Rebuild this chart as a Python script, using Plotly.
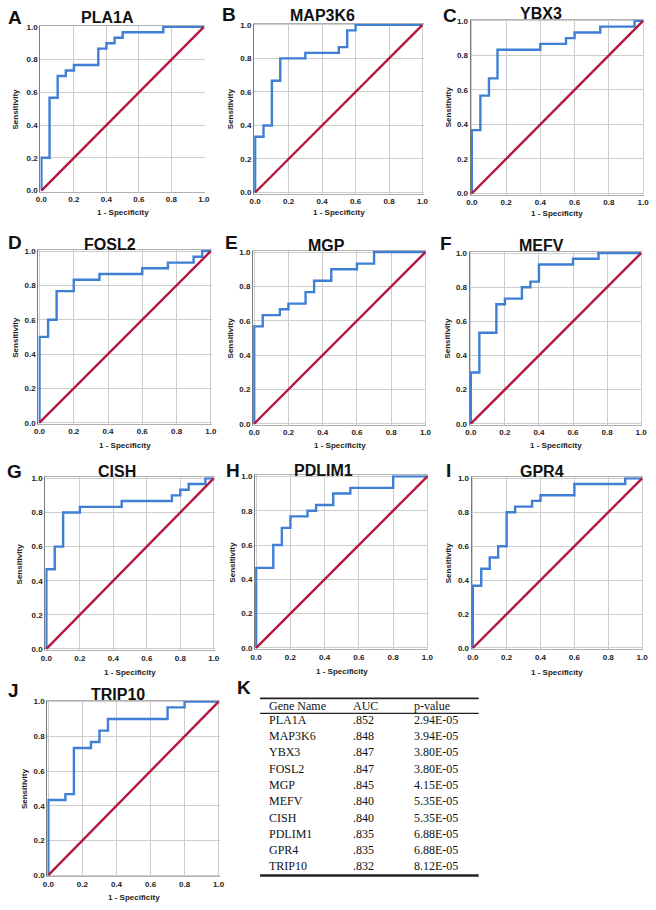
import plotly.graph_objects as go

W, H = 656, 910

# ---------------- data ----------------
genes = ["PLA1A", "MAP3K6", "YBX3", "FOSL2", "MGP", "MEFV", "CISH", "PDLIM1", "GPR4", "TRIP10"]
letters = ["A", "B", "C", "D", "E", "F", "G", "H", "I", "J"]

# ROC step points: 1 - specificity (fpr) and sensitivity (tpr)
pla1a_fpr = [0, 0, 0.05, 0.10, 0.15, 0.20, 0.35, 0.40, 0.45, 0.50, 0.75, 1.0]
pla1a_tpr = [0, 0.200, 0.567, 0.700, 0.733, 0.767, 0.867, 0.900, 0.933, 0.967, 1.0, 1.0]

map3k6_fpr = [0, 0, 0.05, 0.10, 0.15, 0.30, 0.50, 0.55, 0.60, 1.0]
map3k6_tpr = [0, 0.333, 0.400, 0.667, 0.800, 0.833, 0.867, 0.967, 1.0, 1.0]

ybx3_fpr = [0, 0, 0.05, 0.10, 0.15, 0.40, 0.55, 0.60, 0.75, 0.95, 1.0]
ybx3_tpr = [0, 0.367, 0.567, 0.667, 0.833, 0.867, 0.900, 0.933, 0.967, 1.0, 1.0]

fosl2_fpr = [0, 0, 0.05, 0.10, 0.20, 0.35, 0.60, 0.75, 0.90, 0.95, 1.0]
fosl2_tpr = [0, 0.500, 0.600, 0.767, 0.833, 0.867, 0.900, 0.933, 0.967, 1.0, 1.0]

mgp_fpr = [0, 0, 0.05, 0.15, 0.20, 0.30, 0.35, 0.45, 0.60, 0.70, 1.0]
mgp_tpr = [0, 0.567, 0.633, 0.667, 0.700, 0.767, 0.833, 0.900, 0.933, 1.0, 1.0]

mefv_fpr = [0, 0, 0.05, 0.15, 0.20, 0.30, 0.35, 0.40, 0.60, 0.75, 1.0]
mefv_tpr = [0, 0.300, 0.533, 0.700, 0.733, 0.800, 0.833, 0.933, 0.967, 1.0, 1.0]

cish_fpr = [0, 0, 0.05, 0.10, 0.20, 0.45, 0.75, 0.80, 0.85, 0.95, 1.0]
cish_tpr = [0, 0.467, 0.600, 0.800, 0.833, 0.867, 0.900, 0.933, 0.967, 1.0, 1.0]

pdlim1_fpr = [0, 0, 0.10, 0.15, 0.20, 0.30, 0.35, 0.45, 0.55, 0.80, 1.0]
pdlim1_tpr = [0, 0.467, 0.600, 0.700, 0.767, 0.800, 0.833, 0.900, 0.933, 1.0, 1.0]

gpr4_fpr = [0, 0, 0.05, 0.10, 0.15, 0.20, 0.25, 0.35, 0.40, 0.60, 0.90, 1.0]
gpr4_tpr = [0, 0.367, 0.467, 0.533, 0.600, 0.800, 0.833, 0.867, 0.900, 0.967, 1.0, 1.0]

trip10_fpr = [0, 0, 0.10, 0.15, 0.25, 0.30, 0.35, 0.70, 0.80, 1.0]
trip10_tpr = [0, 0.433, 0.467, 0.733, 0.767, 0.833, 0.900, 0.967, 1.0, 1.0]

ref_line = [0, 1]

tick_vals = [0, 0.2, 0.4, 0.6, 0.8, 1.0]
tick_text = ["0.0", "0.2", "0.4", "0.6", "0.8", "1.0"]

table_header = ["Gene Name", "AUC", "p-value"]
table_auc = [".852", ".848", ".847", ".847", ".845", ".840", ".840", ".835", ".835", ".832"]
table_p = ["2.94E-05", "3.94E-05", "3.80E-05", "3.80E-05", "4.15E-05",
           "5.35E-05", "5.35E-05", "6.88E-05", "6.88E-05", "8.12E-05"]

curves = [
    (pla1a_fpr, pla1a_tpr), (map3k6_fpr, map3k6_tpr), (ybx3_fpr, ybx3_tpr),
    (fosl2_fpr, fosl2_tpr), (mgp_fpr, mgp_tpr), (mefv_fpr, mefv_tpr),
    (cish_fpr, cish_tpr), (pdlim1_fpr, pdlim1_tpr), (gpr4_fpr, gpr4_tpr),
    (trip10_fpr, trip10_tpr),
]

# ---------------- layout (pixel boxes) ----------------
# (left, right, top, bottom) of each plot area in pixels
boxes = [
    (36, 203, 23, 190), (253, 425, 21, 192), (473, 649, 17, 193),
    (34, 210, 249, 424), (252, 428, 250, 425), (472, 647, 251, 425),
    (41, 213, 478, 652), (254, 430, 476, 651), (474, 648, 478, 651),
    (43, 218, 703, 880),
]
title_pos = [(104, 15), (322, 13), (544, 11), (107, 243), (326, 244), (545, 244),
             (114, 472), (323, 471), (545, 472), (115, 697)]
letter_pos = [(10, 15), (227, 12), (452, 13), (10, 241), (230, 241), (448, 242),
              (10, 472), (232, 471), (450, 471), (9, 693)]
ytitle_x = [11, 229, 450, 11, 229, 449, 15, 231, 450, 20]
xtitle_y = [211, 211, 212, 446, 446, 446, 675, 674, 675, 901]


def px(x):
    return x / W


def py(y):
    return 1 - y / H


BLUE = "#3f7fd6"
RED = "#b5173f"
SANS = "Liberation Sans, Arial, sans-serif"
SERIF = "Liberation Serif, Times New Roman, serif"

fig = go.Figure()
layout = {}
annotations = []
shapes = []

for i, ((fpr, tpr), (l, r, t, b)) in enumerate(zip(curves, boxes)):
    n = "" if i == 0 else str(i + 1)
    xa, ya = "x" + n, "y" + n
    fig.add_trace(go.Scatter(x=fpr, y=tpr, mode="lines", line=dict(color=BLUE, width=2.4, shape="hv"),
                             xaxis=xa, yaxis=ya, showlegend=False, hoverinfo="skip"))
    fig.add_trace(go.Scatter(x=ref_line, y=ref_line, mode="lines", line=dict(color=RED, width=2.4),
                             xaxis=xa, yaxis=ya, showlegend=False, hoverinfo="skip"))
    common = dict(range=[-0.006, 1.006], tickvals=tick_vals, ticktext=tick_text,
                  showgrid=True, gridcolor="#cdcdcd", gridwidth=1, zeroline=False,
                  ticks="", fixedrange=True,
                  tickfont=dict(family=SANS, size=8, color="#222", weight="bold"))
    layout["xaxis" + n] = dict(domain=[px(l), px(r)], anchor=ya, showline=True,
                               linecolor="#b0b0b0", linewidth=1, mirror=True, **common)
    layout["yaxis" + n] = dict(domain=[py(b), py(t)], anchor=xa, showline=True,
                               linecolor="#7a7a7a", linewidth=1.3, mirror=False, **common)

    tx, ty = title_pos[i]
    annotations.append(dict(x=px(tx), y=py(ty), xref="paper", yref="paper", text=genes[i],
                            showarrow=False, xanchor="center", yanchor="middle",
                            font=dict(family=SANS, size=16, color="#111", weight="bold")))
    lx, ly = letter_pos[i]
    annotations.append(dict(x=px(lx), y=py(ly), xref="paper", yref="paper", text=letters[i],
                            showarrow=False, xanchor="center", yanchor="middle",
                            font=dict(family=SANS, size=19, color="#111", weight="bold")))
    annotations.append(dict(x=px((l + r) / 2), y=py(xtitle_y[i]), xref="paper", yref="paper",
                            text="1 - Specificity", showarrow=False, xanchor="center", yanchor="middle",
                            font=dict(family=SANS, size=8, color="#222", weight="bold")))
    annotations.append(dict(x=px(ytitle_x[i]), y=py((t + b) / 2), xref="paper", yref="paper",
                            text="Sensitivity", showarrow=False, textangle=-90,
                            xanchor="center", yanchor="middle",
                            font=dict(family=SANS, size=8, color="#222", weight="bold")))

# ---------------- table K ----------------
annotations.append(dict(x=px(243), y=py(690), xref="paper", yref="paper", text="K",
                        showarrow=False, xanchor="center", yanchor="middle",
                        font=dict(family=SANS, size=19, color="#111", weight="bold")))
tbl_l, tbl_r = 259, 481
col_x = [266, 351, 413]
header_y = 708
row_y0, row_dy = 722.3, 16.42
for cx, txt in zip(col_x, table_header):
    annotations.append(dict(x=px(cx), y=py(header_y), xref="paper", yref="paper", text=txt,
                            showarrow=False, xanchor="left", yanchor="middle",
                            font=dict(family=SERIF, size=12, color="#111")))
for k, (g, a, p) in enumerate(zip(genes, table_auc, table_p)):
    yy = row_y0 + k * row_dy
    for cx, txt in zip(col_x, (g, a, p)):
        annotations.append(dict(x=px(cx), y=py(yy), xref="paper", yref="paper", text=txt,
                                showarrow=False, xanchor="left", yanchor="middle",
                                font=dict(family=SERIF, size=12, color="#111")))
for yy, wdt in ((700.8, 1.6), (715.8, 1.3), (879.2, 2.4)):
    shapes.append(dict(type="line", xref="paper", yref="paper",
                       x0=px(tbl_l), x1=px(tbl_r), y0=py(yy), y1=py(yy),
                       line=dict(color="#222", width=wdt)))

fig.update_layout(width=W, height=H, margin=dict(l=0, r=0, t=0, b=0),
                  paper_bgcolor="white", plot_bgcolor="white",
                  annotations=annotations, shapes=shapes, **layout)

fig.write_html("out.html", config={"displayModeBar": False},
               post_script="document.body.style.margin='0';document.body.style.overflow='hidden';")
